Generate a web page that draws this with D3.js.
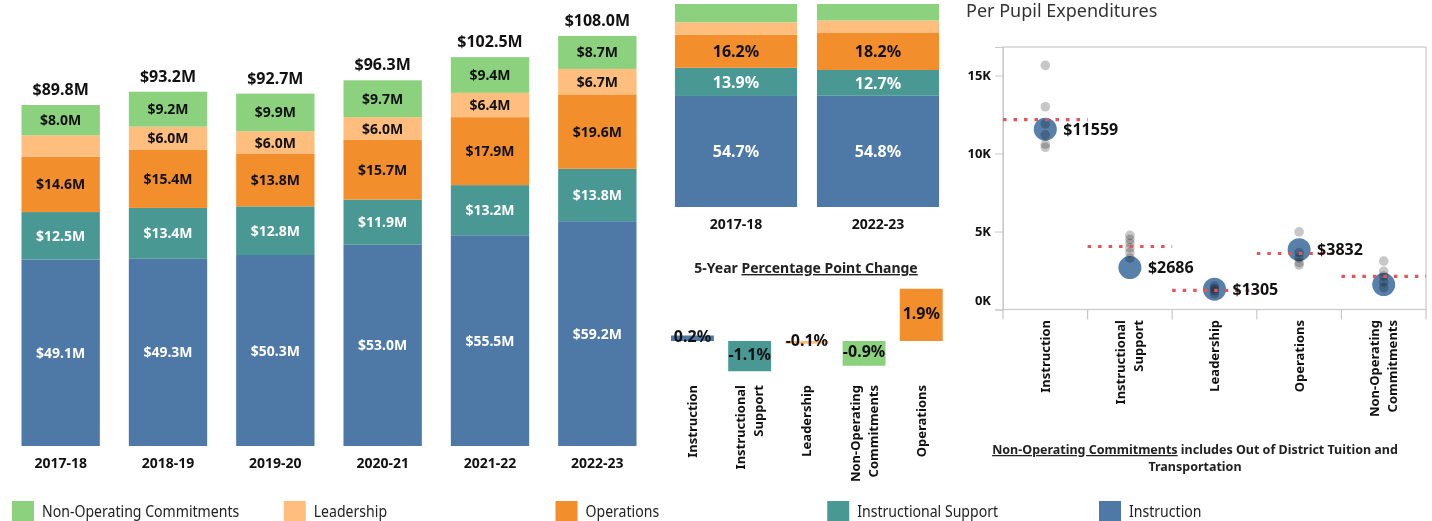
<!DOCTYPE html>
<html>
<head>
<meta charset="utf-8">
<script src="https://cdn.jsdelivr.net/npm/d3@7"></script>
<style>
  html, body { margin: 0; padding: 0; background: #fff; }
  svg { display: block; }
  text { font-family: "Noto Sans", sans-serif; }
</style>
</head>
<body>
<svg id="chart" width="1432" height="521"></svg>
<script>
// ---------- DATA ----------
const years = ["2017-18", "2018-19", "2019-20", "2020-21", "2021-22", "2022-23"];
const seriesNames = ["Instruction", "Instructional Support", "Operations", "Leadership", "Non-Operating Commitments"];
const instruction = [49.1, 49.3, 50.3, 53.0, 55.5, 59.2];
const instructionalSupport = [12.5, 13.4, 12.8, 11.9, 13.2, 13.8];
const operations = [14.6, 15.4, 13.8, 15.7, 17.9, 19.6];
const leadership = [5.6, 6.0, 6.0, 6.0, 6.4, 6.7];
const nonOperating = [8.0, 9.2, 9.9, 9.7, 9.4, 8.7];
const totals = [89.8, 93.2, 92.7, 96.3, 102.5, 108.0];

const shareYears = ["2017-18", "2022-23"];
const share1718 = [54.7, 13.9, 16.2, 6.2, 9.0];
const share2223 = [54.8, 12.7, 18.2, 6.2, 8.1];

const changeCats = ["Instruction", "Instructional Support", "Leadership", "Non-Operating Commitments", "Operations"];
const changeVals = [0.2, -1.1, -0.1, -0.9, 1.9];

const ppCats = ["Instruction", "Instructional Support", "Leadership", "Operations", "Non-Operating Commitments"];
const ppDistrict = [11559, 2686, 1305, 3832, 1600];
const ppReference = [12180, 4040, 1220, 3590, 2130];
const ppOthers = [
  [15650, 13000, 11900, 11200, 10600, 10400],
  [4750, 4500, 4250, 3950, 3650, 3300],
  [1500, 1350, 1200, 1000],
  [4980, 3650, 3300, 3000, 2850],
  [3100, 2450, 2150, 1750, 1400]
];
const ppTicks = [0, 5000, 10000, 15000];

const legendOrder = ["Non-Operating Commitments", "Leadership", "Operations", "Instructional Support", "Instruction"];

// ---------- STYLE ----------
const color = d3.scaleOrdinal()
  .domain(["Instruction", "Instructional Support", "Operations", "Leadership", "Non-Operating Commitments"])
  .range(["#4e79a7", "#499894", "#f28e2b", "#ffbe7d", "#8cd17d"]);
const whiteText = new Set(["Instruction", "Instructional Support"]);
const svg = d3.select("#chart");
svg.append("rect").attr("width", 1432).attr("height", 521).attr("fill", "#fff");

const wrapLabel = {
  "Instructional Support": ["Instructional", "Support"],
  "Non-Operating Commitments": ["Non-Operating", "Commitments"]
};

// ---------- 1. Stacked $ bars ----------
{
  const x = d3.scaleBand().domain(years).range([7, 651]).paddingInner(0.27).paddingOuter(0.135);
  const y = d3.scaleLinear().domain([0, 117.45]).range([446, 0]);
  const seriesVals = [instruction, instructionalSupport, operations, leadership, nonOperating];
  const rows = years.map((yr, i) => {
    const o = { year: yr };
    seriesNames.forEach((s, k) => o[s] = seriesVals[k][i]);
    return o;
  });
  const stack = d3.stack().keys(seriesNames)(rows);
  const g = svg.append("g");
  stack.forEach(layer => {
    const key = layer.key;
    g.selectAll(null).data(layer).join("rect")
      .attr("x", d => x(d.data.year))
      .attr("width", x.bandwidth())
      .attr("y", d => y(d[1]))
      .attr("height", d => y(d[0]) - y(d[1]))
      .attr("fill", color(key));
    g.selectAll(null).data(layer.filter(d => y(d[0]) - y(d[1]) >= 22)).join("text")
      .attr("x", d => x(d.data.year) + x.bandwidth() / 2)
      .attr("y", d => (y(d[0]) + y(d[1])) / 2)
      .attr("dy", "0.36em")
      .attr("text-anchor", "middle")
      .attr("font-size", 14).attr("font-weight", 700)
      .attr("fill", whiteText.has(key) ? "#fff" : "#111")
      .text(d => "$" + (d[1] - d[0]).toFixed(1) + "M");
  });
  g.selectAll(null).data(years).join("text")
    .attr("x", d => x(d) + x.bandwidth() / 2)
    .attr("y", (d, i) => y(d3.sum(seriesVals, s => s[i])) - 10)
    .attr("text-anchor", "middle")
    .attr("font-size", 16).attr("font-weight", 700).attr("fill", "#111")
    .text((d, i) => "$" + totals[i].toFixed(1) + "M");
  g.selectAll(null).data(years).join("text")
    .attr("x", d => x(d) + x.bandwidth() / 2)
    .attr("y", 468)
    .attr("text-anchor", "middle")
    .attr("font-size", 14).attr("font-weight", 700).attr("fill", "#111")
    .text(d => d);
}

// ---------- 2. 100% share bars ----------
{
  const x = d3.scaleBand().domain(shareYears).range([665, 949]).paddingInner(0.14).paddingOuter(0.07);
  const y = d3.scaleLinear().domain([0, 100]).range([207, 4]);
  const shares = [share1718, share2223];
  const rows = shareYears.map((yr, i) => {
    const o = { year: yr };
    seriesNames.forEach((s, k) => o[s] = shares[i][k]);
    return o;
  });
  const stack = d3.stack().keys(seriesNames)(rows);
  const labeled = new Set(["Instruction", "Instructional Support", "Operations"]);
  const g = svg.append("g");
  stack.forEach(layer => {
    const key = layer.key;
    g.selectAll(null).data(layer).join("rect")
      .attr("x", d => x(d.data.year))
      .attr("width", x.bandwidth())
      .attr("y", d => y(d[1]))
      .attr("height", d => y(d[0]) - y(d[1]))
      .attr("fill", color(key));
    if (labeled.has(key)) {
      g.selectAll(null).data(layer).join("text")
        .attr("x", d => x(d.data.year) + x.bandwidth() / 2)
        .attr("y", d => (y(d[0]) + y(d[1])) / 2)
        .attr("dy", "0.36em")
        .attr("text-anchor", "middle")
        .attr("font-size", 16).attr("font-weight", 700)
        .attr("fill", whiteText.has(key) ? "#fff" : "#111")
        .text(d => (d[1] - d[0]).toFixed(1) + "%");
    }
  });
  g.selectAll(null).data(shareYears).join("text")
    .attr("x", d => x(d) + x.bandwidth() / 2)
    .attr("y", 229)
    .attr("text-anchor", "middle")
    .attr("font-size", 14).attr("font-weight", 700).attr("fill", "#111")
    .text(d => d);
}

// ---------- 3. 5-year change ----------
{
  const x = d3.scaleBand().domain(changeCats).range([663.85, 949.85]).paddingInner(0.25).paddingOuter(0.125);
  const y = d3.scaleLinear().domain([-2, 2]).range([396, 286]);
  const g = svg.append("g");
  const title = g.append("text")
    .attr("x", 806).attr("y", 273)
    .attr("text-anchor", "middle")
    .attr("font-size", 14).attr("font-weight", 700).attr("fill", "#222");
  title.append("tspan").text("5-Year ");
  title.append("tspan").attr("text-decoration", "underline").text("Percentage Point Change");

  g.selectAll(null).data(changeCats).join("rect")
    .attr("x", d => x(d))
    .attr("width", x.bandwidth())
    .attr("y", (d, i) => y(Math.max(0, changeVals[i])))
    .attr("height", (d, i) => Math.abs(y(changeVals[i]) - y(0)))
    .attr("fill", d => color(d));
  g.selectAll(null).data(changeCats).join("text")
    .attr("x", d => x(d) + x.bandwidth() / 2)
    .attr("y", (d, i) => (y(changeVals[i]) + y(0)) / 2 - 2)
    .attr("dy", "0.36em")
    .attr("text-anchor", "middle")
    .attr("font-size", 16).attr("font-weight", 700).attr("fill", "#111")
    .text((d, i) => changeVals[i].toFixed(1) + "%");

  g.selectAll(null).data(changeCats).join("text")
    .attr("transform", d => `translate(${x(d) + x.bandwidth() / 2},385) rotate(-90)`)
    .attr("text-anchor", "end")
    .attr("font-size", 13).attr("font-weight", 700).attr("fill", "#111")
    .each(function (d) {
      const lines = wrapLabel[d] || [d];
      const t = d3.select(this);
      lines.forEach((ln, k) => {
        t.append("tspan").attr("x", 0)
          .attr("y", (k - (lines.length - 1) / 2) * 18 + 4.5)
          .text(ln);
      });
    });
}

// ---------- 4. Per pupil expenditures ----------
{
  const left = 1003, right = 1426, top = 47, bottom = 309.5;
  const x = d3.scaleBand().domain(ppCats).range([left, right]);
  const y = d3.scaleLinear().domain([0, 16830]).range([bottom, top]);
  const g = svg.append("g");

  g.append("text").attr("x", 966).attr("y", 17)
    .attr("font-family", "'Liberation Sans', Arial, sans-serif")
    .attr("font-size", 18).attr("fill", "#333")
    .text("Per Pupil Expenditures");

  g.append("rect").attr("x", left).attr("y", top)
    .attr("width", right - left).attr("height", bottom - top)
    .attr("fill", "none").attr("stroke", "#c8c8c8").attr("stroke-width", 1.2);

  const yAxis = g.append("g").attr("transform", `translate(${left},0)`)
    .call(d3.axisLeft(y).tickValues(ppTicks).tickSize(8).tickPadding(4)
      .tickFormat(d => (d / 1000) + "K"));
  yAxis.select(".domain").attr("stroke", "#c8c8c8");
  yAxis.selectAll(".tick line").attr("stroke", "#c8c8c8");
  yAxis.selectAll(".tick text")
    .attr("font-family", "'Noto Sans', sans-serif")
    .attr("font-size", 13).attr("font-weight", 700).attr("fill", "#111")
    .attr("dy", d => d === 0 ? "-0.4em" : "0.32em");

  const xAxis = g.append("g").attr("transform", `translate(0,${bottom})`);
  const bounds = ppCats.map(c => x(c)).concat([right]);
  xAxis.selectAll("line").data(bounds).join("line")
    .attr("x1", d => d).attr("x2", d => d)
    .attr("y1", 0).attr("y2", 10)
    .attr("stroke", "#c8c8c8").attr("stroke-width", 1.2);

  g.selectAll(null).data(ppCats).join("text")
    .attr("transform", d => `translate(${x(d) + x.bandwidth() / 2},320) rotate(-90)`)
    .attr("text-anchor", "end")
    .attr("font-size", 13).attr("font-weight", 700).attr("fill", "#111")
    .each(function (d) {
      const lines = wrapLabel[d] || [d];
      const t = d3.select(this);
      lines.forEach((ln, k) => {
        t.append("tspan").attr("x", 0)
          .attr("y", (k - (lines.length - 1) / 2) * 18 + 4.5)
          .text(ln);
      });
    });

  // district circles
  g.selectAll(null).data(ppCats).join("circle")
    .attr("cx", d => x(d) + x.bandwidth() / 2)
    .attr("cy", (d, i) => y(ppDistrict[i]))
    .attr("r", 11.5)
    .attr("fill", "#4e79a7").attr("fill-opacity", 0.95);

  // other points
  ppCats.forEach((c, i) => {
    g.selectAll(null).data(ppOthers[i]).join("circle")
      .attr("cx", x(c) + x.bandwidth() / 2)
      .attr("cy", d => y(d))
      .attr("r", 4.8)
      .attr("fill", "#bdbdbd").attr("fill-opacity", 0.85)
      .style("mix-blend-mode", "multiply");
  });

  // reference lines
  g.selectAll(null).data(ppCats).join("line")
    .attr("x1", d => x(d)).attr("x2", d => x(d) + x.bandwidth())
    .attr("y1", (d, i) => y(ppReference[i])).attr("y2", (d, i) => y(ppReference[i]))
    .attr("stroke", "#e15759").attr("stroke-width", 3.2)
    .attr("stroke-dasharray", "3.5 7");

  g.selectAll(null).data(ppCats.slice(0, 4)).join("text")
    .attr("x", d => x(d) + x.bandwidth() / 2 + 18)
    .attr("y", (d, i) => y(ppDistrict[i]))
    .attr("dy", "0.36em")
    .attr("font-size", 16).attr("font-weight", 700).attr("fill", "#111")
    .text((d, i) => "$" + d3.format("d")(ppDistrict[i]));

  const note = g.append("text")
    .attr("text-anchor", "middle")
    .attr("font-size", 12.5).attr("font-weight", 700).attr("fill", "#222");
  const l1 = note.append("tspan").attr("x", 1195).attr("y", 454);
  l1.append("tspan").attr("text-decoration", "underline").text("Non-Operating Commitments");
  l1.append("tspan").text(" includes Out of District Tuition and");
  note.append("tspan").attr("x", 1195).attr("y", 471).text("Transportation");
}

// ---------- Legend ----------
{
  const lx = d3.scalePoint().domain(legendOrder).range([12, 1099]);
  const g = svg.append("g");
  g.selectAll(null).data(legendOrder).join("rect")
    .attr("x", d => lx(d)).attr("y", 501)
    .attr("width", 22).attr("height", 20)
    .attr("fill", d => color(d));
  g.selectAll(null).data(legendOrder).join("text")
    .attr("transform", d => `translate(${lx(d) + 30},517) scale(0.88,1)`)
    .attr("font-family", "'Liberation Sans', Arial, sans-serif")
    .attr("font-size", 16).attr("fill", "#222")
    .text(d => d);
}
</script>
</body>
</html>
